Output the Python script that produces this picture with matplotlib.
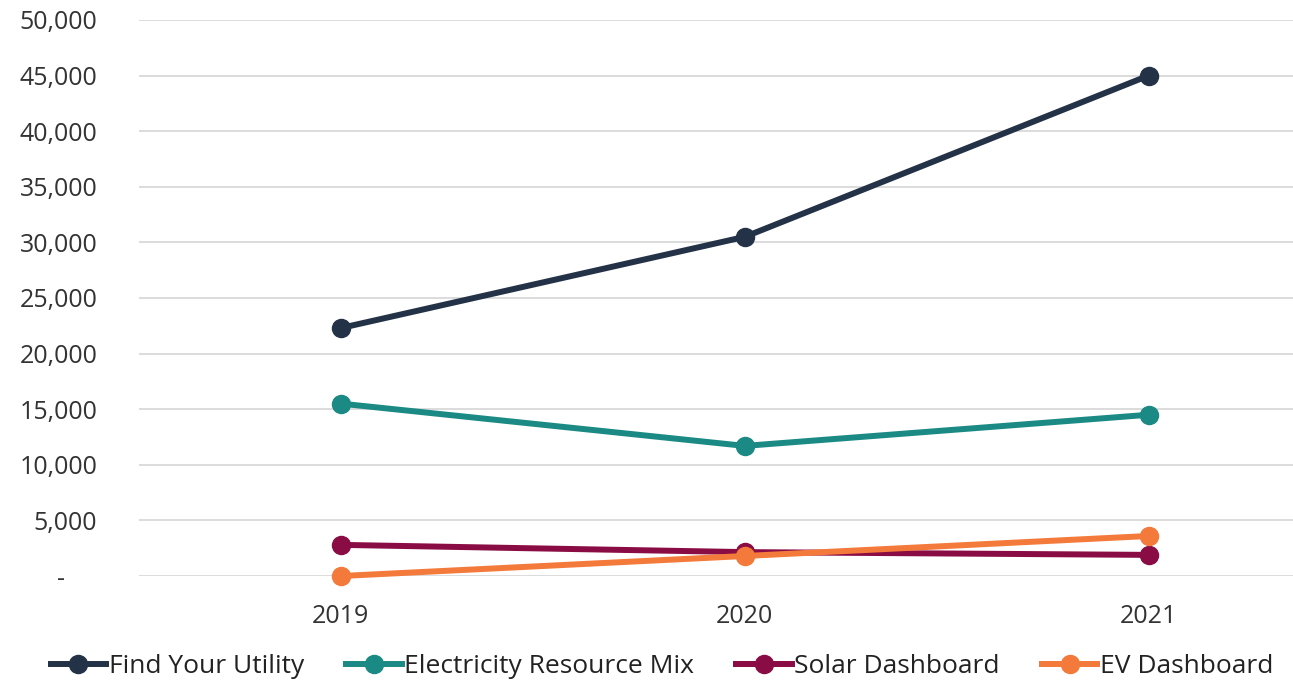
import matplotlib.pyplot as plt
from matplotlib.ticker import FuncFormatter

years = ["2019", "2020", "2021"]
find_your_utility = [22300, 30500, 45000]
resource_mix = [15500, 11700, 14500]
solar_dashboard = [2800, 2150, 1900]
ev_dashboard = [0, 1800, 3600]

series = [
    ("Find Your Utility", find_your_utility, "#243247"),
    ("Electricity Resource Mix", resource_mix, "#1b8a84"),
    ("Solar Dashboard", solar_dashboard, "#8a0c44"),
    ("EV Dashboard", ev_dashboard, "#f37a3a"),
]

plt.rcParams["font.family"] = ["Open Sans", "DejaVu Sans"]

fig = plt.figure(figsize=(12.93, 6.82), dpi=100)
ax = fig.add_axes([0.1075, 0.1554, 0.937, 0.8153])

x = range(len(years))
for name, vals, color in series:
    ax.plot(x, vals, color=color, linewidth=4.3, marker="o", markersize=13,
            label=name, clip_on=False, zorder=3)

ax.set_xlim(-0.5, 2.5)
ax.set_ylim(0, 50000)
ax.set_yticks(range(0, 50001, 5000))
ax.yaxis.set_major_formatter(FuncFormatter(lambda v, p: "-     " if v == 0 else f"{int(v):,}"))
ax.set_xticks(list(x))
ax.set_xticklabels(years)
ax.grid(axis="y", color="#d9d9d9", linewidth=1.3)
ax.set_axisbelow(True)
for s in ax.spines.values():
    s.set_visible(False)
ax.tick_params(axis="both", length=0, labelsize=18, colors="#333333")
ax.tick_params(axis="y", pad=30)
ax.tick_params(axis="x", pad=20)

fig.legend(loc="center", bbox_to_anchor=(0.512, 0.023), ncol=4, frameon=False,
           fontsize=19, handlelength=2.1, handletextpad=0.1, columnspacing=1.6,
           labelcolor="#222222")

fig.savefig("out.png", dpi=100)
